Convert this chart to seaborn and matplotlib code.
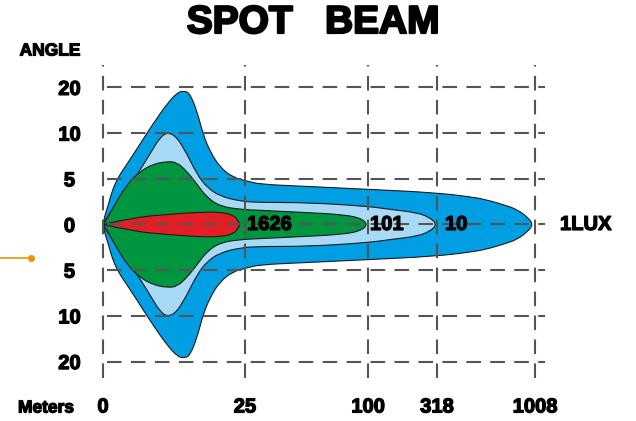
import matplotlib
matplotlib.use("Agg")
import matplotlib.pyplot as plt
import matplotlib.patheffects as pe
from matplotlib.path import Path
from matplotlib.patches import PathPatch
from matplotlib.lines import Line2D
import seaborn as sns

# distance marks (meters) and where their grid lines sit along the chart
meters = ["0", "25", "100", "318", "1008"]
meter_pos = [0.0, 1.42, 2.65, 3.34, 4.32]

# angle marks, one grid step each
angles = ["20", "10", "5", "0", "5", "10", "20"]
angle_pos = [3, 2, 1, 0, -1, -2, -3]

# isolux outlines: position along the chart and half width (in angle steps)
lux1_x = [0.0, 0.02, 0.05, 0.09, 0.15, 0.24, 0.37, 0.50, 0.64, 0.75, 0.82, 0.87,
          0.94, 1.00, 1.07, 1.17, 1.30, 1.44, 1.57, 1.97, 2.64, 3.30, 3.70, 3.87,
          4.02, 4.14, 4.25, 4.30]
lux1_w = [0.0, 0.22, 0.40, 0.73, 1.03, 1.32, 1.76, 2.20, 2.64, 2.90, 2.92, 2.86,
          2.48, 1.98, 1.60, 1.25, 1.03, 0.95, 0.88, 0.84, 0.77, 0.70, 0.60, 0.52,
          0.42, 0.33, 0.15, 0.0]

lux10_x = [0.0, 0.03, 0.07, 0.17, 0.30, 0.47, 0.57, 0.65, 0.74, 0.84, 0.94, 1.04,
           1.17, 1.37, 1.57, 2.04, 2.64, 2.87, 3.14, 3.27, 3.34]
lux10_w = [0.0, 0.12, 0.25, 0.59, 0.95, 1.54, 1.91, 2.02, 1.91, 1.54, 1.10, 0.81,
           0.62, 0.51, 0.48, 0.48, 0.40, 0.33, 0.26, 0.15, 0.0]

lux101_x = [0.0, 0.04, 0.10, 0.24, 0.37, 0.50, 0.64, 0.74, 0.84, 0.94, 1.04, 1.17,
            1.37, 1.57, 2.04, 2.37, 2.57, 2.65]
lux101_w = [0.0, 0.12, 0.37, 0.88, 1.16, 1.32, 1.38, 1.36, 1.16, 0.88, 0.59, 0.40,
            0.33, 0.31, 0.26, 0.22, 0.15, 0.0]

lux1626_x = [0.0, 0.30, 0.64, 0.97, 1.17, 1.30, 1.35, 1.37]
lux1626_w = [0.0, 0.15, 0.22, 0.27, 0.27, 0.21, 0.09, 0.0]

lux_labels = ["1626", "101", "10", "1LUX"]
lux_label_x = [1.44, 2.67, 3.42, 4.57]

colors = {"1": "#009fe3", "10": "#a8daf5", "101": "#009640", "1626": "#e31e24"}


def beam_path(xs, ws):
    """Closed smooth outline, upper edge out to the tip and lower edge back."""
    pts = list(zip(xs, ws)) + list(zip(xs[-2::-1], [-w for w in ws[-2::-1]]))
    verts = [pts[0]]
    codes = [Path.MOVETO]
    n = len(pts)
    for i in range(1, n - 1):
        if i == n - 2:
            end = pts[i + 1]
        else:
            end = ((pts[i][0] + pts[i + 1][0]) / 2, (pts[i][1] + pts[i + 1][1]) / 2)
        verts += [pts[i], end]
        codes += [Path.CURVE3, Path.CURVE3]
    verts.append(pts[0])
    codes.append(Path.CLOSEPOLY)
    return Path(verts, codes)


sns.set_style("white")
plt.rcParams["font.family"] = ["Liberation Sans", "DejaVu Sans"]
plt.rcParams["font.weight"] = "bold"
plt.rcParams["text.color"] = "black"
plt.rcParams["xtick.color"] = "black"
plt.rcParams["ytick.color"] = "black"

heavy = [pe.withStroke(linewidth=0.9, foreground="black")]
heavier = [pe.withStroke(linewidth=1.6, foreground="black")]

W, H = 636, 421
fig = plt.figure(figsize=(W / 100, H / 100), dpi=100)
left, right, top, bottom = 100, 548, 65, 378
ax = fig.add_axes([left / W, 1 - bottom / H, (right - left) / W, (bottom - top) / H])
ax.set_xlim(-0.03, 4.45)
ax.set_ylim(-3.36, 3.49)

for key, xs, ws in [("1", lux1_x, lux1_w), ("10", lux10_x, lux10_w),
                    ("101", lux101_x, lux101_w), ("1626", lux1626_x, lux1626_w)]:
    ax.add_patch(PathPatch(beam_path(xs, ws), facecolor=colors[key],
                           edgecolor="#1a1a1a", linewidth=0.8, zorder=2))

grid_kw = dict(color="#555555", linewidth=1.5, dashes=(7, 4.5), zorder=3)
for yv in angle_pos:
    ax.plot([0.04, 4.42], [yv, yv], **grid_kw)
for xv in meter_pos:
    ax.plot([xv, xv], [-3.36, 3.49], **grid_kw)

for lab, xv in zip(lux_labels, lux_label_x):
    ax.text(xv, 0, lab, ha="left", va="center", fontsize=14.5,
            fontweight="bold", color="black", zorder=5, clip_on=False,
            path_effects=heavy)

ax.set_xticks(meter_pos, meters)
ax.set_yticks(angle_pos, angles)
ax.tick_params(axis="both", length=0, labelsize=14.5)
ax.tick_params(axis="x", pad=14)
ax.tick_params(axis="y", pad=22)
for t in ax.get_yticklabels():
    t.set_horizontalalignment("center")
for t in ax.get_xticklabels() + ax.get_yticklabels():
    t.set_fontweight("bold")
    t.set_path_effects(heavy)
sns.despine(ax=ax, left=True, bottom=True)
ax.patch.set_alpha(0)

fig.text(313 / W, 1 - 23 / H, "SPOT   BEAM", ha="center", va="center",
         fontsize=28, fontweight="bold", path_effects=heavier)
fig.text(50 / W, 1 - 51 / H, "ANGLE", ha="center", va="center",
         fontsize=12.5, fontweight="bold", path_effects=heavy)
fig.text(46 / W, 1 - 408 / H, "Meters", ha="center", va="center",
         fontsize=12.5, fontweight="bold", path_effects=heavy)

# small orange pointer on the left edge
fig.add_artist(Line2D([0, 31 / W], [1 - 258 / H, 1 - 258 / H], color="#f39200",
                      linewidth=1.2, transform=fig.transFigure))
fig.add_artist(Line2D([31 / W], [1 - 258 / H], color="#f39200", marker="o",
                      markersize=4, transform=fig.transFigure))

fig.savefig("out.png", dpi=100)
